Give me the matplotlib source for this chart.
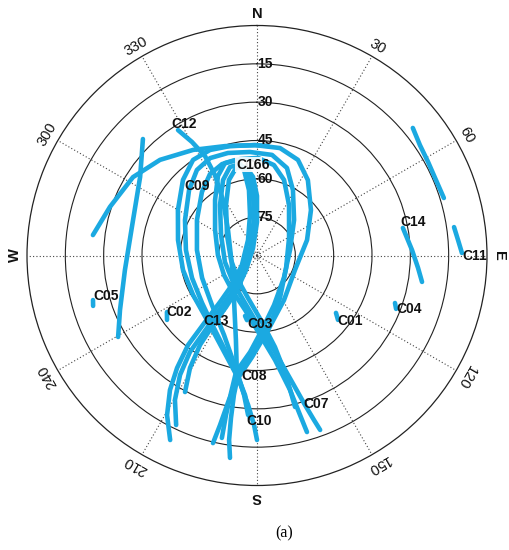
import numpy as np
import matplotlib.pyplot as plt

# BeiDou sky plot: azimuth (deg, clockwise from N) and elevation (deg)
igso_a_az = [193.2, 192.3, 191.0, 188.8, 182.8, 171.6, 148.8, 110.9, 72.8, 49.9, 34.0, 23.2, 12.1, 359.0,
             346.1, 336.0, 326.2, 315.6, 299.9, 281.1, 258.9, 238.3, 217.8, 200.7, 188.8, 183.4, 181.0, 180.0]
igso_a_el = [14.6, 22.1, 32.4, 41.5, 50.2, 60.5, 69.6, 74.1, 69.5, 62.4, 54.4, 49.3, 47.0, 46.8,
             45.9, 44.8, 45.0, 48.6, 54.3, 58.5, 60.5, 60.6, 58.1, 51.3, 41.5, 31.4, 23.7, 17.8]

igso_b_az = [190.9, 191.0, 190.7, 190.2, 184.1, 176.2, 161.0, 129.8, 80.5, 46.2, 28.8, 18.9, 8.5, 356.1,
             344.2, 334.3, 324.9, 313.9, 296.2, 274.4, 250.9, 229.2, 210.7, 197.8, 190.2, 184.9, 182.5]
igso_b_el = [17.3, 26.4, 35.3, 43.7, 52.1, 60.8, 69.5, 76.3, 76.9, 69.9, 60.8, 53.8, 50.2, 49.4,
             48.3, 47.7, 49.1, 53.1, 58.6, 62.1, 63.1, 61.6, 57.0, 50.3, 43.7, 35.2, 26.3]

igso_c_az = [187.6, 188.6, 189.1, 189.4, 189.0, 181.2, 169.4, 151.6, 113.3, 61.3, 32.4, 19.7, 10.6, 0.6,
             350.0, 339.1, 330.0, 319.1, 300.6, 275.2, 247.8, 222.3, 202.5, 189.0, 185.3, 183.2]
igso_c_el = [10.1, 17.0, 25.6, 34.7, 42.7, 53.0, 62.3, 71.1, 77.6, 75.7, 66.6, 58.6, 54.0, 51.8,
             51.7, 51.7, 53.2, 57.1, 62.7, 66.4, 66.8, 63.8, 56.3, 42.7, 35.2, 27.5]

igso_d_az = [205.2, 209.4, 212.9, 215.4, 217.6, 218.0, 218.5, 220.3, 237.7, 329.9, 350.2, 353.0, 351.4, 347.0,
             340.9, 333.9, 322.9, 301.3, 270.7, 239.4, 215.9, 192.4, 177.8, 170.2, 166.2, 164.9, 164.2]
igso_d_el = [10.2, 18.3, 27.3, 36.0, 45.8, 57.0, 66.8, 74.9, 83.0, 83.0, 73.9, 64.2, 56.2, 51.7,
             51.7, 55.3, 62.8, 70.8, 74.7, 75.0, 73.3, 68.2, 58.9, 48.5, 35.8, 25.4, 18.2]

igso_e_az = [205.5, 209.6, 212.8, 214.8, 214.6, 214.7, 214.1, 226.1, 330.3, 355.4, 356.4, 353.8, 349.5,
             343.0, 335.8, 323.8, 299.7, 258.5, 222.2, 199.4, 179.2, 169.4, 164.5, 162.2, 160.9, 160.1]
igso_e_el = [16.5, 25.0, 34.4, 44.0, 55.5, 66.0, 74.6, 83.0, 85.3, 75.3, 65.1, 57.1, 53.6,
             53.8, 57.6, 65.5, 73.8, 77.2, 76.0, 72.4, 62.8, 51.6, 38.6, 28.6, 21.9, 17.4]

igso_f_az = [207.8, 210.8, 212.5, 212.3, 211.0, 210.1, 217.2, 331.9, 0.0, 0.0, 357.1, 352.9,
             346.5, 339.6, 328.5, 304.3, 260.2, 217.8, 192.0, 175.7, 168.9, 166.4, 165.9]
igso_f_el = [29.6, 38.8, 48.5, 57.8, 66.5, 74.4, 82.9, 86.7, 76.9, 66.7, 59.2, 55.1,
             54.8, 58.5, 66.8, 75.8, 79.7, 77.9, 73.0, 63.9, 53.5, 41.9, 28.9]

west_arc_az = [277.1, 288.3, 302.3, 314.6, 328.8, 343.7, 359.0, 5.7]
west_arc_el = [25.3, 29.4, 32.6, 36.7, 41.7, 45.4, 46.8, 46.9]

meo_west_az = [315.6, 303.9, 282.8, 263.7, 248.3, 239.6]
meo_west_el = [26.2, 34.9, 39.8, 38.0, 32.3, 27.0]

c12_az = [327.8, 330.2, 332.4, 332.4, 328.5, 311.3, 249.2, 207.3, 194.0, 189.1]
c12_el = [32.0, 38.8, 46.1, 54.5, 64.5, 74.9, 79.5, 70.4, 55.9, 40.7]

ne_arc_az = [50.7, 55.9, 61.3, 67.1, 72.9]
ne_arc_el = [11.2, 13.0, 13.7, 14.0, 13.5]

c11_az = [81.8, 85.6, 89.3]
c11_el = [12.1, 11.1, 9.8]

c14_az = [79.3, 88.0, 94.4, 99.1]
c14_el = [31.9, 29.3, 26.8, 24.6]

# GEO satellites (nearly fixed)
c05_az, c05_el = [254.8, 252.9], [23.5, 22.9]
c02_az, c02_el = [237.9, 234.4], [48.4, 46.7]
c03_az, c03_el = [191.2, 188.8], [65.9, 64.4]
c01_az, c01_el = [126.0, 128.5], [51.8, 49.5]
c04_az, c04_el = [109.0, 111.0], [32.9, 31.7]

label_names = ['C12', 'C06', 'C16', 'C09', 'C14', 'C11', 'C05', 'C02',
               'C13', 'C03', 'C01', 'C04', 'C08', 'C07', 'C10']
label_az = [326.8, 351.8, 346.9, 313.6, 76.8, 90.1, 256.1, 238.2,
            219.5, 188.3, 129.3, 111.0, 187.6, 162.8, 183.5]
label_el = [28.5, 54.2, 53.6, 50.6, 32.5, 9.8, 23.9, 48.1,
            56.8, 62.9, 49.5, 31.7, 42.4, 29.2, 25.1]

elev_rings = [15, 30, 45, 60, 75]
az_ticks = list(range(0, 360, 30))
az_labels = ['N', '30', '60', 'E', '120', '150', 'S', '210', '240', 'W', '300', '330']

tracks = [
    (igso_a_az, igso_a_el), (igso_b_az, igso_b_el), (igso_c_az, igso_c_el),
    (igso_d_az, igso_d_el), (igso_e_az, igso_e_el), (igso_f_az, igso_f_el),
    (west_arc_az, west_arc_el), (meo_west_az, meo_west_el), (c12_az, c12_el),
    (ne_arc_az, ne_arc_el), (c11_az, c11_el), (c14_az, c14_el),
    (c05_az, c05_el), (c02_az, c02_el), (c03_az, c03_el), (c01_az, c01_el), (c04_az, c04_el),
]

plt.rcParams['font.family'] = ['Liberation Sans', 'DejaVu Sans']
track_color = '#1BA9E1'

fig = plt.figure(figsize=(5.09, 5.5), dpi=100)
ax = fig.add_axes([27 / 509, 1 - 485.5 / 550, 460 / 509, 460 / 550], projection='polar')
ax.set_theta_zero_location('N')
ax.set_theta_direction(-1)
ax.set_rlim(0, 90)

# grid: solid elevation rings, dotted azimuth spokes
ax.set_xticks(np.radians(az_ticks))
ax.set_xticklabels([])
ax.set_yticks([90 - e for e in elev_rings])
ax.set_yticklabels([])
ax.xaxis.grid(True, color='#444444', linestyle=(0, (1, 2)), linewidth=0.8)
ax.yaxis.grid(True, color='#222222', linestyle='-', linewidth=0.8)
ax.spines['polar'].set_linewidth(0.9)
ax.spines['polar'].set_color('#222222')
ax.tick_params(length=0)

t = np.linspace(0, 2 * np.pi, 60)
ax.plot(t, np.full_like(t, 1.3), color='#444444', linestyle=(0, (1, 1.5)), linewidth=0.7)

for az, el in tracks:
    ax.plot(np.radians(az), 90 - np.array(el), color=track_color, linewidth=3.3,
            solid_capstyle='round', solid_joinstyle='round', zorder=2)

# C16 sits on top of C06 so only the last "6" of C06 shows, as in the original
for name, az, el in zip(label_names, label_az, label_el):
    kw = {}
    if name == 'C16':
        kw['bbox'] = dict(facecolor='white', edgecolor='none', pad=0.3, alpha=0.9)
    ax.text(np.radians(az), 90 - el, name, ha='left', va='center', fontsize=10,
            fontweight='bold', color='#111111', zorder=4 if name == 'C16' else 3, **kw)

for e in elev_rings:
    ax.annotate(str(e), xy=(0, 90 - e), xytext=(8, 0), textcoords='offset pixels',
                ha='center', va='center', fontsize=10, fontweight='bold', color='#111111', zorder=5)

for a, lab in zip(az_ticks, az_labels):
    bold = lab in ('N', 'E', 'S', 'W')
    ax.text(np.radians(a), 94.6, lab, rotation=-a, rotation_mode='anchor', ha='center', va='center',
            fontsize=10.5, fontweight='bold' if bold else 'normal', color='#111111')

fig.text(284 / 509, 1 - 533 / 550, '(a)', ha='center', va='center', fontsize=11.5,
         family='Liberation Serif')

plt.savefig('out.png', dpi=100)
